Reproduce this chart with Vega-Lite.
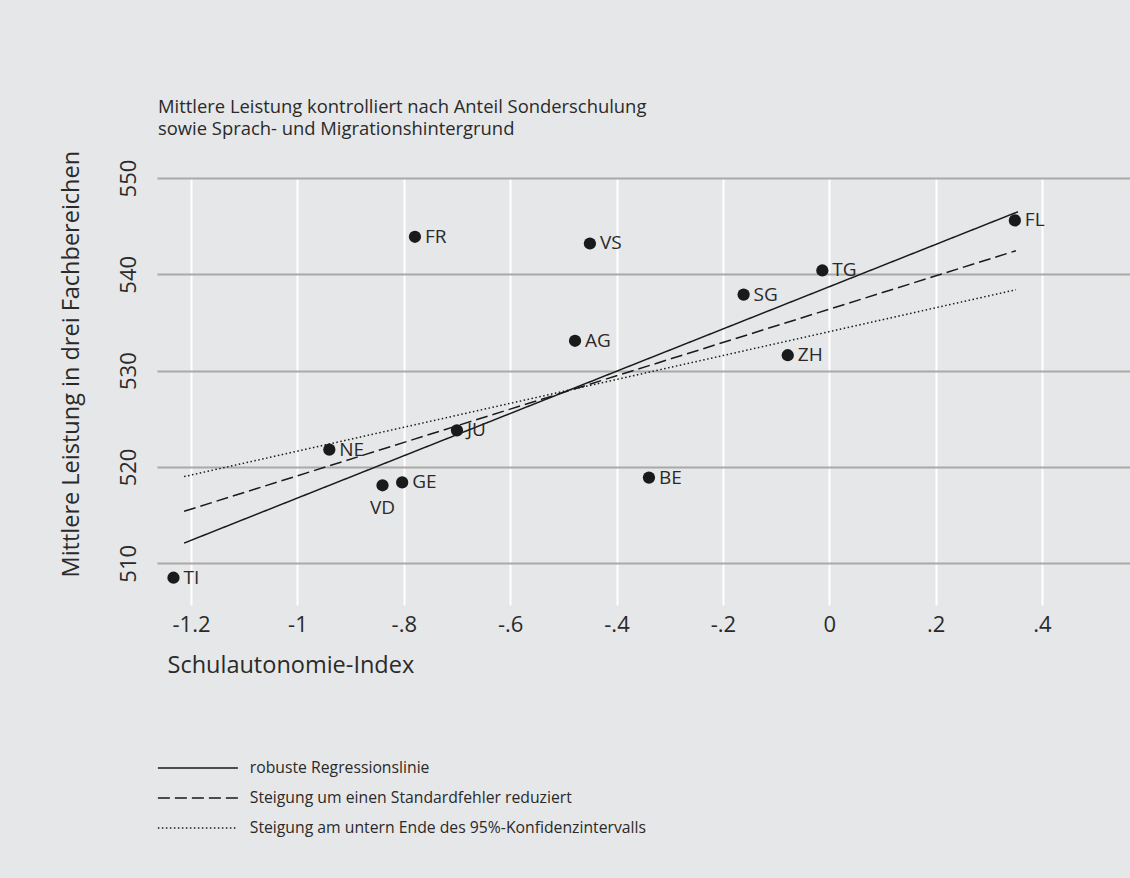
{
  "$schema": "https://vega.github.io/schema/vega-lite/v6.json",
  "width": 973,
  "height": 427,
  "autosize": {"type": "none"},
  "padding": {"left": 157, "top": 178, "right": 0, "bottom": 273},
  "background": "#e6e7e9",
  "config": {"font": "Open Sans", "view": {"stroke": null}},
  "title": {
    "text": "Mittlere Leistung kontrolliert nach Anteil Sonderschulung",
    "subtitle": "sowie Sprach- und Migrationshintergrund",
    "anchor": "start",
    "frame": "group",
    "fontSize": 18.4,
    "fontWeight": "normal",
    "color": "#2a2a2a",
    "subtitleFontSize": 18.4,
    "subtitleColor": "#2a2a2a",
    "subtitleFont": "Open Sans",
    "subtitlePadding": 4,
    "offset": 12,
    "dx": 1
  },
  "datasets": {
    "lines": [
      {"serie": "robuste Regressionslinie", "x": -1.213, "y": 512.1},
      {"serie": "robuste Regressionslinie", "x": 0.355, "y": 546.5},
      {"serie": "Steigung um einen Standardfehler reduziert", "x": -1.213, "y": 515.4},
      {"serie": "Steigung um einen Standardfehler reduziert", "x": 0.351, "y": 542.45},
      {"serie": "Steigung am untern Ende des 95%-Konfidenzintervalls", "x": -1.213, "y": 519.0},
      {"serie": "Steigung am untern Ende des 95%-Konfidenzintervalls", "x": 0.351, "y": 538.4}
    ],
    "points": [
      {"kanton": "TI", "x": -1.233, "y": 508.5},
      {"kanton": "NE", "x": -0.940, "y": 521.8},
      {"kanton": "JU", "x": -0.700, "y": 523.8},
      {"kanton": "VD", "x": -0.840, "y": 518.1},
      {"kanton": "GE", "x": -0.803, "y": 518.4},
      {"kanton": "FL", "x": 0.349, "y": 545.6},
      {"kanton": "TG", "x": -0.013, "y": 540.4},
      {"kanton": "SG", "x": -0.161, "y": 537.9},
      {"kanton": "ZH", "x": -0.078, "y": 531.6},
      {"kanton": "FR", "x": -0.779, "y": 543.9},
      {"kanton": "VS", "x": -0.450, "y": 543.2},
      {"kanton": "AG", "x": -0.478, "y": 533.1},
      {"kanton": "BE", "x": -0.339, "y": 518.9}
    ]
  },
  "layer": [
    {
      "data": {"name": "lines"},
      "mark": {"type": "line", "strokeWidth": 1.5, "color": "#1a1a1a"},
      "encoding": {
        "x": {
          "field": "x", "type": "quantitative",
          "scale": {"domain": [-1.264, 0.5655], "nice": false, "zero": false},
          "axis": {
            "values": [-1.2, -1, -0.8, -0.6, -0.4, -0.2, 0, 0.2, 0.4],
            "labelExpr": "(datum.value < 0 ? '-' : '') + replace(format(abs(datum.value), '.1~f'), '0.', '.')",
            "grid": true, "gridColor": "#ffffff", "gridWidth": 2,
            "domain": false, "ticks": false,
            "labelFontSize": 22, "labelColor": "#2a2a2a", "labelPadding": 9,
            "title": "Schulautonomie-Index",
            "titleFontSize": 23.5, "titleFontWeight": "normal", "titleColor": "#2a2a2a",
            "titleAnchor": "start", "titleAlign": "left", "titleX": 10, "titleY": 67, "titleBaseline": "alphabetic"
          }
        },
        "y": {
          "field": "y", "type": "quantitative",
          "scale": {"domain": [505.67, 550], "nice": false, "zero": false},
          "axis": {
            "values": [510, 520, 530, 540, 550],
            "grid": true, "gridColor": "#a9a9a9", "gridWidth": 2,
            "domain": false, "ticks": false,
            "labelAngle": 270, "labelAlign": "center", "labelBaseline": "middle",
            "labelFontSize": 22, "labelColor": "#2a2a2a", "labelPadding": 29,
            "title": "Mittlere Leistung in drei Fachbereichen",
            "titleFontSize": 23.5, "titleFontWeight": "normal", "titleColor": "#2a2a2a",
            "titleAnchor": "start", "titleAlign": "left", "titleBaseline": "middle",
            "titleAngle": 270, "titleX": -86, "titleY": 399
          }
        },
        "strokeDash": {
          "field": "serie", "type": "nominal",
          "scale": {
            "domain": ["robuste Regressionslinie", "Steigung um einen Standardfehler reduziert", "Steigung am untern Ende des 95%-Konfidenzintervalls"],
            "range": [[1, 0], [12, 5], [1.5, 2.5]]
          },
          "legend": {
            "orient": "none", "legendX": 33, "legendY": 582,
            "title": null, "symbolType": "M-8,0H8", "symbolSize": 100,
            "symbolStrokeWidth": 1.5, "symbolStrokeColor": "#1a1a1a",
            "labelFontSize": 15.75, "labelColor": "#2a2a2a", "labelOffset": 44, "labelLimit": 0,
            "rowPadding": 13, "padding": 0, "direction": "vertical"
          }
        }
      }
    },
    {
      "data": {"name": "points"},
      "mark": {"type": "point", "filled": true, "size": 150, "color": "#1a1a1a", "opacity": 1},
      "encoding": {
        "x": {"field": "x", "type": "quantitative"},
        "y": {"field": "y", "type": "quantitative"}
      }
    },
    {
      "data": {"name": "points"},
      "transform": [{"filter": "datum.kanton != 'VD'"}],
      "mark": {"type": "text", "align": "left", "baseline": "middle", "dx": 10, "fontSize": 19, "color": "#2a2a2a"},
      "encoding": {
        "x": {"field": "x", "type": "quantitative"},
        "y": {"field": "y", "type": "quantitative"},
        "text": {"field": "kanton"}
      }
    },
    {
      "data": {"name": "points"},
      "transform": [{"filter": "datum.kanton == 'VD'"}],
      "mark": {"type": "text", "align": "center", "baseline": "middle", "dy": 23, "fontSize": 19, "color": "#2a2a2a"},
      "encoding": {
        "x": {"field": "x", "type": "quantitative"},
        "y": {"field": "y", "type": "quantitative"},
        "text": {"field": "kanton"}
      }
    }
  ]
}
